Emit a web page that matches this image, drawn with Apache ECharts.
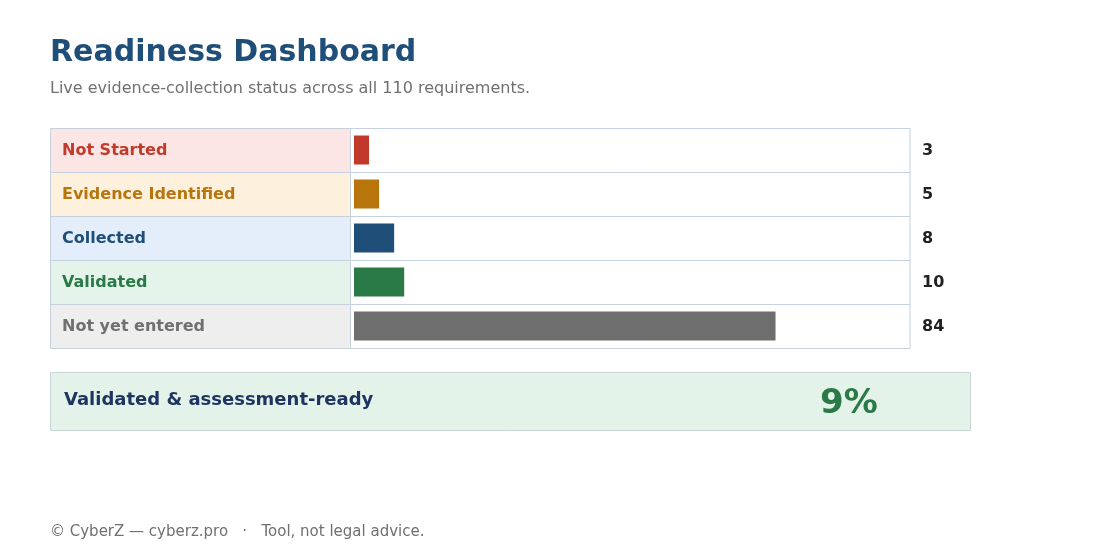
<!DOCTYPE html>
<html>
<head>
<meta charset="utf-8">
<title>Readiness Dashboard</title>
<script src="https://cdn.jsdelivr.net/npm/echarts@6/dist/echarts.min.js"></script>
<style>
    html, body { margin: 0; padding: 0; background: #fff; }
    #chart { width: 1100px; height: 560px; }
</style>
</head>
<body>
<div id="chart"></div>
<script>
// statuses and their counts
var categories = ["Not Started", "Evidence Identified", "Collected", "Validated", "Not yet entered"];
var counts = [3, 5, 8, 10, 84];
var totalRequirements = 110;
var barColors = ["#c0392b", "#b8750c", "#1f4e79", "#2a7a47", "#6e6e6e"];
var labelColors = ["#c0392b", "#b8750c", "#1f4e79", "#2a7a47", "#707070"];
var labelBgColors = ["#fce6e5", "#fdf1de", "#e4eefa", "#e4f4ea", "#eeeeee"];

var font = "'DejaVu Sans', sans-serif";
var borderColor = "#c5d1df";

var validatedIdx = categories.indexOf("Validated");
var readyPct = Math.round(counts[validatedIdx] / totalRequirements * 100);

var chart = echarts.init(document.getElementById("chart"));

// row cells: label cell + bar track, positioned from the category band
function renderRow(params, api) {
    var idx = api.value(0);
    var pt = api.coord([0, idx]);
    var band = api.size([0, 1])[1];
    var top = Math.round(pt[1] - band / 2) + 0.5;
    var gridRight = params.coordSys.x + params.coordSys.width;
    var trackLeft = pt[0] - 3.5;
    return {
        type: "group",
        children: [
            {
                type: "rect",
                shape: { x: 50.5, y: top, width: trackLeft - 50.5, height: band },
                style: { fill: labelBgColors[idx], stroke: borderColor, lineWidth: 1 }
            },
            {
                type: "rect",
                shape: { x: trackLeft, y: top, width: gridRight + 4 - trackLeft, height: band },
                style: { fill: "#ffffff", stroke: borderColor, lineWidth: 1 }
            },
            {
                type: "text",
                x: 62, y: pt[1] + 0.5,
                style: {
                    text: categories[idx], fill: labelColors[idx],
                    font: "bold 16px " + font, verticalAlign: "middle"
                }
            },
            {
                type: "text",
                x: gridRight + 16, y: pt[1] + 0.5,
                style: {
                    text: String(counts[idx]), fill: "#222222",
                    font: "bold 16px " + font, verticalAlign: "middle"
                }
            }
        ]
    };
}

var option = {
    animation: false,
    title: [
        {
            text: "Readiness Dashboard",
            left: 50, top: 38, padding: 0,
            textStyle: { color: "#1f4e79", fontFamily: "DejaVu Sans", fontWeight: "bold", fontSize: 30 }
        },
        {
            text: "Live evidence-collection status across all " + totalRequirements + " requirements.",
            left: 50, top: 81, padding: 0,
            textStyle: { color: "#707070", fontFamily: "DejaVu Sans", fontWeight: "normal", fontSize: 16 }
        },
        {
            text: "\u00a9 CyberZ \u2014 cyberz.pro   \u00b7   Tool, not legal advice.",
            left: 50, top: 525, padding: 0,
            textStyle: { color: "#707070", fontFamily: "DejaVu Sans", fontWeight: "normal", fontSize: 15 }
        }
    ],
    grid: { left: 354, right: 194, top: 128, bottom: 212 },
    xAxis: {
        type: "value", min: 0, max: totalRequirements,
        show: false
    },
    yAxis: {
        type: "category", data: categories, inverse: true,
        show: false
    },
    series: [
        {
            type: "custom",
            renderItem: renderRow,
            clip: false,
            silent: true,
            z: 1,
            data: categories.map(function (c, i) { return [i]; }),
            encode: { y: 0 }
        },
        {
            type: "bar",
            z: 3,
            barWidth: 29,
            data: counts.map(function (v, i) {
                return { value: v, itemStyle: { color: barColors[i] } };
            })
        }
    ],
    graphic: [
        {
            type: "rect",
            shape: { x: 50.5, y: 372.5, width: 920, height: 58 },
            style: { fill: "#e4f3ea", stroke: "#c8d6d8", lineWidth: 1 }
        },
        {
            type: "text",
            x: 64, y: 400,
            style: {
                text: "Validated & assessment-ready", fill: "#1f3560",
                font: "bold 18px " + font, verticalAlign: "middle"
            }
        },
        {
            type: "text",
            x: 820, y: 404,
            style: {
                text: readyPct + "%", fill: "#2a7a47",
                font: "bold 34px " + font, verticalAlign: "middle"
            }
        }
    ]
};

chart.setOption(option);
</script>
</body>
</html>
